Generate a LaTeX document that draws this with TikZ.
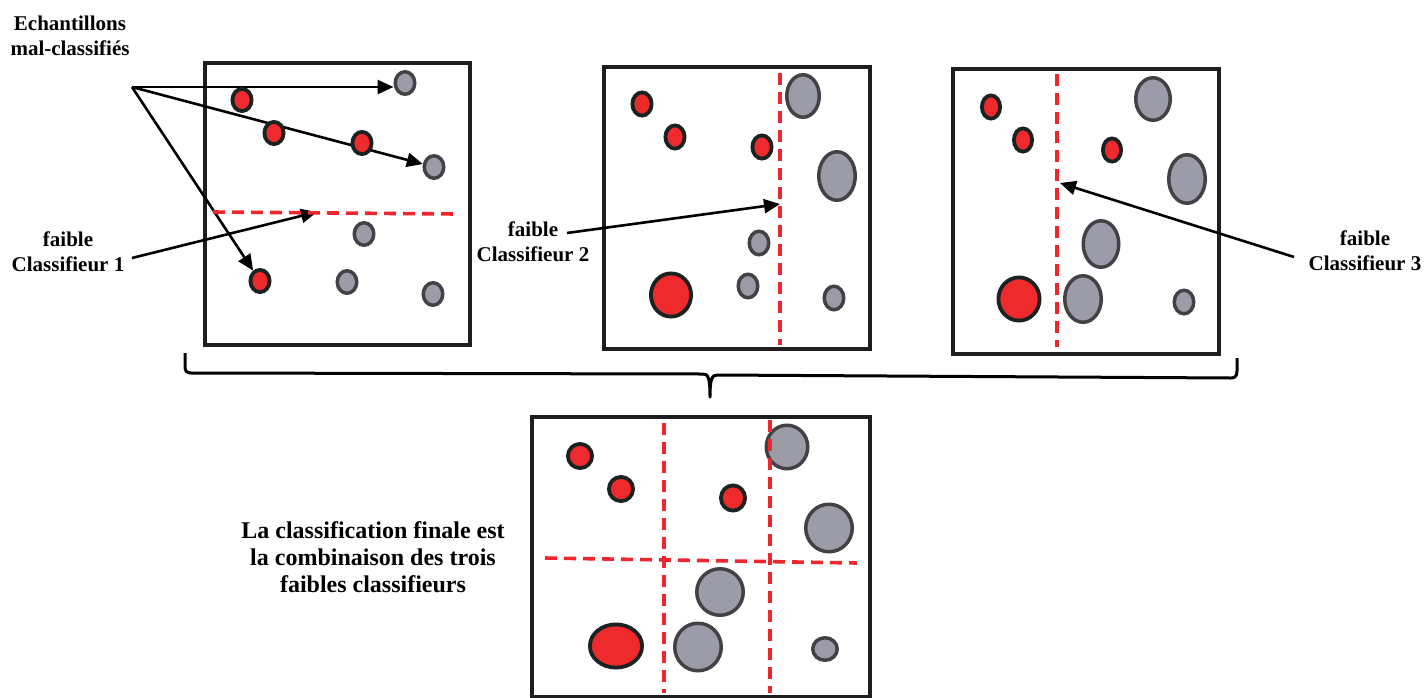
\documentclass[tikz,border=0pt]{standalone}
\usepackage{fontspec}
\setmainfont{Liberation Serif}[BoldFont={Liberation Serif Bold}]
\newfontfamily\labelfont{Liberation Serif}[BoldFont={Liberation Serif Bold}]
\usetikzlibrary{shapes.geometric,arrows.meta}
\definecolor{dotred}{HTML}{EE2A2C}
\definecolor{ringdark}{HTML}{1B2222}
\definecolor{dotgrey}{HTML}{9C9CA8}
\definecolor{ringgrey}{HTML}{424246}
\definecolor{splitred}{HTML}{F0262E}
\definecolor{framedark}{HTML}{1E1E1E}
\pgfdeclarelayer{frames}
\pgfdeclarelayer{pointers}
\pgfdeclarelayer{splits}
\pgfsetlayers{frames,pointers,main,splits}
\begin{document}
\begin{tikzpicture}[x=1pt,y=-1pt,
  panel/.style={draw=framedark, line width=4pt, fill=white, inner sep=0pt, anchor=north west},
  rdot/.style 2 args={ellipse, draw=ringdark, fill=dotred, line width=3.8pt, inner sep=0pt,
    minimum width=#1pt-3.8pt, minimum height=#2pt-3.8pt},
  gdot/.style 2 args={ellipse, draw=ringgrey, fill=dotgrey, line width=3.5pt, inner sep=0pt,
    minimum width=#1pt-3.5pt, minimum height=#2pt-3.5pt},
  split/.style={draw=splitred, line width=3.6pt, dash pattern=on 12pt off 7pt},
  pointer/.style={draw=black, line width=2.6pt, -{Triangle[length=16pt,width=14pt]}},
  lbl/.style={font=\labelfont\bfseries\fontsize{21}{25}\selectfont, align=center, inner sep=0pt},
  biglbl/.style={font=\labelfont\bfseries\fontsize{24}{27}\selectfont, align=center, inner sep=0pt},
  brace/.style={draw=black, line width=3pt, line join=round}]
\useasboundingbox (0,0) rectangle (1424,697);

% the four panels
\begin{pgfonlayer}{frames}
  \node[panel, minimum width=265pt, minimum height=282pt] (p1) at (203,61) {};
  \node[panel, minimum width=266pt, minimum height=282pt] (p2) at (602,65) {};
  \node[panel, minimum width=266pt, minimum height=285pt] (p3) at (951,67) {};
  \node[panel, minimum width=338pt, minimum height=280pt] (p4) at (530,415) {};
\end{pgfonlayer}

% panel 1: samples
\node[rdot={23}{26}] (a1) at (242,100) {};
\node[rdot={23}{26}] (a2) at (274,133) {};
\node[rdot={23}{26}] (a3) at (362,143) {};
\node[rdot={23}{26}] (a4) at (260,281) {};
\node[gdot={23}{26}] (a5) at (405,83) {};
\node[gdot={23}{26}] (a6) at (434,167) {};
\node[gdot={23}{26}] (a7) at (364,234) {};
\node[gdot={23}{26}] (a8) at (347,282) {};
\node[gdot={23}{26}] (a9) at (433,294) {};

% panel 2: samples
\node[rdot={23}{27}] (b1) at (642,104) {};
\node[rdot={23}{27}] (b2) at (675,137) {};
\node[rdot={23}{27}] (b3) at (762,147) {};
\node[rdot={44}{47}] (b4) at (671,295) {};
\node[gdot={36}{46}] (b5) at (803,96) {};
\node[gdot={40}{52}] (b6) at (837,176) {};
\node[gdot={23}{27}] (b7) at (759,243) {};
\node[gdot={23}{27}] (b8) at (748,286) {};
\node[gdot={23}{27}] (b9) at (834,298) {};

% panel 3: samples
\node[rdot={22}{27}] (c1) at (991,107) {};
\node[rdot={22}{27}] (c2) at (1023,140) {};
\node[rdot={22}{27}] (c3) at (1112,150) {};
\node[rdot={45}{47}] (c4) at (1019,299) {};
\node[gdot={38}{46}] (c5) at (1153,99) {};
\node[gdot={40}{52}] (c6) at (1187,179) {};
\node[gdot={39}{50}] (c7) at (1101,244) {};
\node[gdot={40}{50}] (c8) at (1083,299) {};
\node[gdot={23}{27}] (c9) at (1184,302) {};

% panel 4: samples
\node[rdot={28}{28}] (d1) at (580,456) {};
\node[rdot={28}{28}] (d2) at (621,489) {};
\node[rdot={28}{29}] (d3) at (733,498) {};
\node[rdot={56}{47}] (d4) at (616,646) {};
\node[gdot={45}{47}] (d5) at (787,447) {};
\node[gdot={50}{51}] (d6) at (829,528) {};
\node[gdot={50}{50}] (d7) at (720,592) {};
\node[gdot={50}{51}] (d8) at (698,647) {};
\node[gdot={28}{26}] (d9) at (825,649) {};

% decision boundaries
\begin{pgfonlayer}{splits}
  \coordinate (s1a) at (213,212);  \coordinate (s1b) at (457,214);
  \coordinate (s2a) at (780,73);   \coordinate (s2b) at (780,345);
  \coordinate (s3a) at (1057,74);  \coordinate (s3b) at (1057,347);
  \coordinate (s4a) at (664,423);  \coordinate (s4b) at (664,693);
  \coordinate (s5a) at (770,420);  \coordinate (s5b) at (770,693);
  \coordinate (s6a) at (545,558);  \coordinate (s6b) at (857,563);
  \draw[split] (s1a) -- (s1b);
  \draw[split] (s2a) -- (s2b);
  \draw[split] (s3a) -- (s3b);
  \draw[split] (s4a) -- (s4b);
  \draw[split] (s5a) -- (s5b);
  \draw[split] (s6a) -- (s6b);
\end{pgfonlayer}

% labels
\node[lbl] (ech) at (70,36) {Echantillons\\mal-classifiés};
\node[lbl] (wk1) at (68,252) {faible\\Classifieur 1};
\node[lbl] (wk2) at (533,242) {faible\\Classifieur 2};
\node[lbl] (wk3) at (1365,251) {faible\\Classifieur 3};
\node[biglbl] (fin) at (373,557) {La classification finale est\\la combinaison des trois\\faibles classifieurs};

% pointers
\coordinate (src) at (132,87);
\coordinate (o1) at (132,258);
\coordinate (o2) at (567,233);
\coordinate (o3) at (1294,257);
\coordinate (t1) at (317,212);
\coordinate (t2) at (780,204);
\coordinate (t3) at (1060,183);
\begin{pgfonlayer}{pointers}
  \draw[pointer] (src) -- (src -| a5.west);
  \draw[pointer] (src) -- (a6);
  \draw[pointer] (src) -- (a4);
  \draw[pointer] (o1) -- (t1);
  \draw[pointer] (o2) -- (t2);
  \draw[pointer] (o3) -- (t3);
\end{pgfonlayer}

% brace gathering the three weak classifiers
\draw[brace] (185,353) -- (185,367) .. controls (185,371) and (187,373) .. (191,373)
  -- (703,374) .. controls (708,374) and (710,377) .. (710,397)
  .. controls (710,379) and (712,375) .. (717,375)
  -- (1231,378) .. controls (1235,378) and (1237,376) .. (1237,371) -- (1237,358);
\end{tikzpicture}
\end{document}
